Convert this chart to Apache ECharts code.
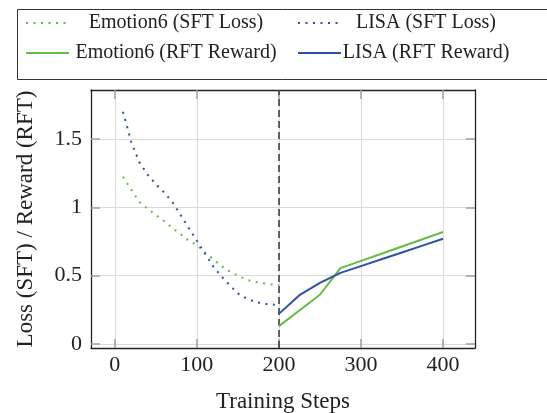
<!DOCTYPE html>
<html>
<head>
<meta charset="utf-8">
<script src="https://cdn.jsdelivr.net/npm/echarts@6.0.0/dist/echarts.min.js"></script>
<style>
  html, body { margin: 0; padding: 0; background: #fff; }
  #chart { width: 547px; height: 413px; }
</style>
</head>
<body>
<div id="chart"></div>
<script>
// SFT phase (steps 10..200)
const stepsSFT = [10, 20, 30, 40, 50, 60, 70, 80, 90, 100, 110, 120, 130, 140, 150, 160, 170, 180, 190, 200]
const emotionSFT = [1.225, 1.13, 1.04, 0.99, 0.945, 0.9, 0.85, 0.805, 0.757, 0.725, 0.67, 0.62, 0.57, 0.531, 0.5, 0.472, 0.455, 0.445, 0.437, 0.43]
const lisaSFT = [1.7, 1.48, 1.33, 1.24, 1.17, 1.11, 1.04, 0.946, 0.85, 0.756, 0.66, 0.568, 0.495, 0.43, 0.37, 0.335, 0.31, 0.295, 0.29, 0.285]

// RFT phase (steps 200..400)
const stepsRFT = [200, 225, 250, 275, 300, 325, 350, 375, 400]
const emotionRFT = [0.13, 0.245, 0.36, 0.555, 0.608, 0.66, 0.714, 0.767, 0.82]
const lisaRFT = [0.22, 0.357, 0.447, 0.52, 0.57, 0.62, 0.67, 0.72, 0.77]

const xTicks = [0, 100, 200, 300, 400]
const yTicks = [0, 0.5, 1, 1.5]
const phaseSplit = 200

const GREEN = '#66bb47'
const BLUE = '#3050a6'
const FONT = 'Liberation Serif'

const zip = (xs, ys) => xs.map((x, i) => [x, ys[i]])

const chart = echarts.init(document.getElementById('chart'), null, { renderer: 'canvas' })

// 刻度：四边都朝内
const tickStyle = { show: true, inside: true, length: 9, lineStyle: { color: '#a0a0a0', width: 1.5 } }
const frameLine = { show: true, onZero: false, lineStyle: { color: '#222', width: 1.3 } }

const dotted = (color) => ({ color, width: 2, type: [2, 5.5], cap: 'butt' })
const solid = (color) => ({ color, width: 2 })

const legendBase = {
  orient: 'vertical',
  top: 13,
  padding: 0,
  itemWidth: 43,
  itemHeight: 14,
  itemGap: 10,
  selectedMode: false,
  // 只保留线段，不画中间的圆点
  itemStyle: { opacity: 0 },
  formatter: (name) => `{c|${name}}`,
}

const option = {
  animation: false,
  backgroundColor: '#fff',
  textStyle: { fontFamily: FONT },
  // 固定绘图区位置，不让 v6 自动收缩
  grid: { left: 91, top: 90, right: 72, bottom: 65, containLabel: false, outerBoundsMode: 'none' },
  legend: [
    {
      ...legendBase,
      left: 25,
      data: ['Emotion6 (SFT Loss)', 'Emotion6 (RFT Reward)'],
      textStyle: {
        fontFamily: FONT, fontSize: 20, color: '#222', lineHeight: 20,
        rich: { c: { width: 204, align: 'center', fontFamily: FONT, fontSize: 20, color: '#222' } },
      },
    },
    {
      ...legendBase,
      left: 297,
      data: ['LISA (SFT Loss)', 'LISA (RFT Reward)'],
      textStyle: {
        fontFamily: FONT, fontSize: 20, color: '#222', lineHeight: 20,
        rich: { c: { width: 160, align: 'center', fontFamily: FONT, fontSize: 20, color: '#222' } },
      },
    },
  ],
  graphic: [
    {
      type: 'rect',
      left: 15,
      top: 7,
      shape: { width: 560, height: 70 },
      style: { fill: 'none', stroke: '#333', lineWidth: 1 },
      silent: true,
      z: -1,
    },
  ],
  xAxis: [
    {
      type: 'value',
      min: -29,
      max: 439,
      name: 'Training Steps',
      nameLocation: 'middle',
      nameGap: 42,
      nameTextStyle: { fontFamily: FONT, fontSize: 23, color: '#222' },
      axisLine: frameLine,
      axisTick: { ...tickStyle, customValues: xTicks },
      axisLabel: { customValues: xTicks, fontFamily: FONT, fontSize: 22, color: '#222', margin: 6 },
      splitLine: { show: true, lineStyle: { color: '#dadada', width: 1 } },
    },
    {
      type: 'value',
      position: 'top',
      min: -29,
      max: 439,
      axisLine: frameLine,
      axisTick: { ...tickStyle, customValues: xTicks },
      axisLabel: { show: false },
      splitLine: { show: false },
    },
  ],
  yAxis: [
    {
      type: 'value',
      min: -0.03,
      max: 1.86,
      name: 'Loss (SFT) / Reward (RFT)',
      nameLocation: 'middle',
      nameGap: 54,
      nameTextStyle: { fontFamily: FONT, fontSize: 23, color: '#222' },
      axisLine: frameLine,
      axisTick: { ...tickStyle, customValues: yTicks },
      axisLabel: { customValues: yTicks, fontFamily: FONT, fontSize: 22, color: '#222', margin: 9 },
      splitLine: { show: true, lineStyle: { color: '#dadada', width: 1 } },
    },
    {
      type: 'value',
      position: 'right',
      min: -0.03,
      max: 1.86,
      axisLine: frameLine,
      axisTick: { ...tickStyle, customValues: yTicks },
      axisLabel: { show: false },
      splitLine: { show: false },
    },
  ],
  series: [
    {
      name: 'Emotion6 (SFT Loss)',
      type: 'line',
      symbol: 'none',
      lineStyle: dotted(GREEN),
      itemStyle: { color: GREEN },
      data: zip(stepsSFT, emotionSFT),
      z: 3,
    },
    {
      name: 'LISA (SFT Loss)',
      type: 'line',
      symbol: 'none',
      lineStyle: dotted(BLUE),
      itemStyle: { color: BLUE },
      data: zip(stepsSFT, lisaSFT),
      z: 3,
    },
    {
      name: 'Emotion6 (RFT Reward)',
      type: 'line',
      symbol: 'none',
      lineStyle: solid(GREEN),
      itemStyle: { color: GREEN },
      data: zip(stepsRFT, emotionRFT),
      z: 3,
      // SFT / RFT 分界线
      markLine: {
        silent: true,
        symbol: ['none', 'none'],
        label: { show: false },
        lineStyle: { color: '#333', width: 1.5, type: [7, 4] },
        data: [{ xAxis: phaseSplit }],
        z: 2,
      },
    },
    {
      name: 'LISA (RFT Reward)',
      type: 'line',
      symbol: 'none',
      lineStyle: solid(BLUE),
      itemStyle: { color: BLUE },
      data: zip(stepsRFT, lisaRFT),
      z: 3,
    },
  ],
}

chart.setOption(option)
</script>
</body>
</html>
